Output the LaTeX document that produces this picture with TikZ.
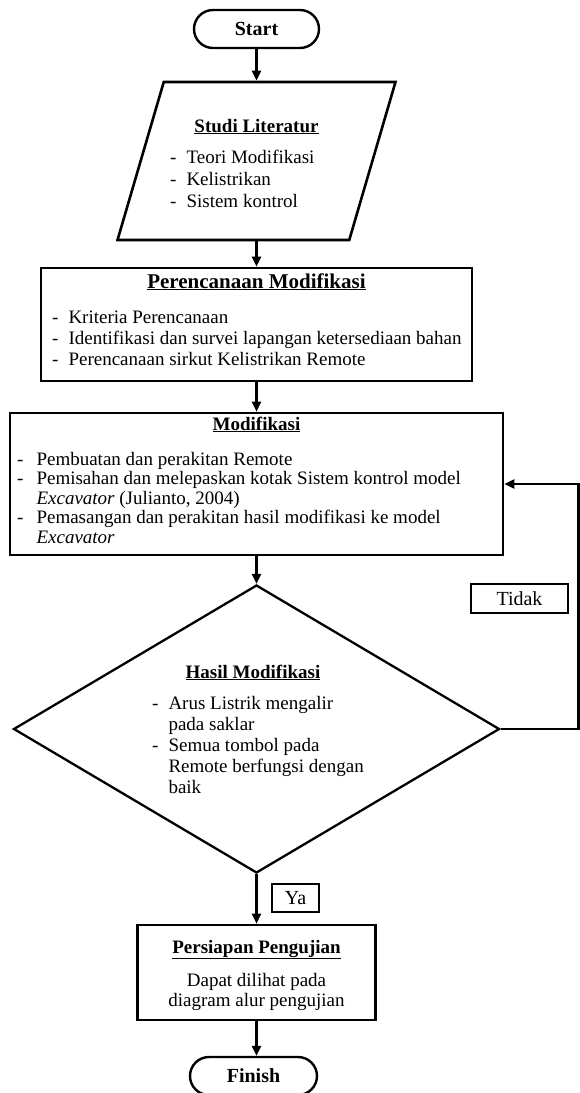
\documentclass[tikz,border=0pt]{standalone}
\usepackage{fontspec}
\setmainfont{Liberation Serif}
\usetikzlibrary{arrows.meta, positioning, shapes.geometric}

\begin{document}
\begin{tikzpicture}[
    x=1pt, y=-1pt,
    >={Triangle[length=10pt, width=9pt]},
    every node/.style={font=\fontsize{19}{21}\selectfont},
    term/.style={draw, line width=2.4pt, rounded corners=19pt, minimum width=125pt, minimum height=38pt, inner sep=0pt, font=\fontsize{20}{24}\selectfont\bfseries},
    box/.style={draw, line width=2.6pt, inner sep=0pt},
    ttl/.style={inner sep=0pt, anchor=base},
    lst/.style={inner sep=0pt, anchor=north west, align=left},
    tag/.style={draw, line width=2.4pt, inner sep=0pt, font=\fontsize{20}{24}\selectfont},
    flow/.style={->, line width=2.2pt},
]
    \useasboundingbox (0,0) rectangle (580,1093);

    % Start
    \node[term] (start) at (256.5, 29) {Start};

    % Studi literatur
    \node[box, trapezium, inner sep=4pt, trapezium left angle=76, trapezium right angle=104, trapezium stretches=true,
          minimum width=278pt, minimum height=158pt] (studi) at (256.5, 161) {};
    \node[ttl] (studiT) at (256.5, 132) {\underline{\textbf{Studi Literatur}}};
    \node[lst, font=\fontsize{19}{22}\selectfont] (studiL) at (170, 147.6)
        {\begin{tabular}{@{}l@{\hspace{10pt}}l@{}}
         - & Teori Modifikasi\\
         - & Kelistrikan\\
         - & Sistem kontrol
         \end{tabular}};

    % Perencanaan
    \node[box, minimum width=431pt, minimum height=113pt] (renc) at (256.5, 324.5) {};
    \node[ttl, font=\fontsize{21}{24}\selectfont] (rencT) at (256.5, 288) {\underline{\textbf{Perencanaan Modifikasi}}};
    \node[lst] (rencL) at (52, 308.3)
        {\begin{tabular}{@{}l@{\hspace{10pt}}l@{}}
         - & Kriteria Perencanaan\\
         - & Identifikasi dan survei lapangan ketersediaan bahan\\
         - & Perencanaan sirkut Kelistrikan Remote
         \end{tabular}};

    % Modifikasi
    \node[box, minimum width=493pt, minimum height=142pt] (modif) at (256.5, 484) {};
    \node[ttl] (modifT) at (256.5, 430) {\underline{\textbf{Modifikasi}}};
    \node[lst, font=\fontsize{19}{19.5}\selectfont] (modifL) at (17, 451.4)
        {\begin{tabular}{@{}l@{\hspace{13pt}}l@{}}
         - & Pembuatan dan perakitan Remote\\
         - & Pemisahan dan melepaskan kotak Sistem kontrol model\\
           & \textit{Excavator} (Julianto, 2004)\\
         - & Pemasangan dan perakitan hasil modifikasi ke model\\
           & \textit{Excavator}
         \end{tabular}};

    % Hasil modifikasi
    \node[box, diamond, inner sep=4pt, line width=2.3pt, minimum width=486pt, minimum height=288pt] (hasil) at (256.5, 729) {};
    \node[ttl] (hasilT) at (253, 678) {\underline{\textbf{Hasil Modifikasi}}};
    \node[lst] (hasilL) at (152, 695)
        {\begin{tabular}{@{}l@{\hspace{10pt}}l@{}}
         - & Arus Listrik mengalir\\
           & pada saklar\\
         - & Semua tombol pada\\
           & Remote berfungsi dengan\\
           & baik
         \end{tabular}};

    % Persiapan
    \node[box, minimum width=238pt, minimum height=95pt] (siap) at (256.5, 972.5) {};
    \node[ttl] (siapT) at (256.5, 953) {\underline{\textbf{Persiapan Pengujian}}};
    \node[inner sep=0pt, anchor=north, font=\fontsize{19}{20}\selectfont] (siapL) at (256.5, 972.3)
        {\begin{tabular}{@{}c@{}}
         Dapat dilihat pada\\
         diagram alur pengujian
         \end{tabular}};

    % Finish
    \node[term, minimum width=127pt] (finish) at (253.5, 1076) {Finish};

    % Labels
    \node[tag, minimum width=97pt, minimum height=29pt] (tidak) at (519.5, 598.5) {Tidak};
    \node[tag, minimum width=47pt, minimum height=28pt] (ya) at (295.5, 898) {Ya};

    \coordinate (loop) at (578.5, 729);

    \draw[flow] (start) -- (studi);
    \draw[flow] (studi) -- (renc);
    \draw[flow] (renc) -- (modif);
    \draw[flow] (modif) -- (hasil);
    \draw[flow] (hasil) -- (siap);
    \draw[flow] (siap.south) -- (siap.south |- finish.north);
    \draw[flow] (hasil.east) -- (loop) |- (modif.east);
\end{tikzpicture}
\end{document}
